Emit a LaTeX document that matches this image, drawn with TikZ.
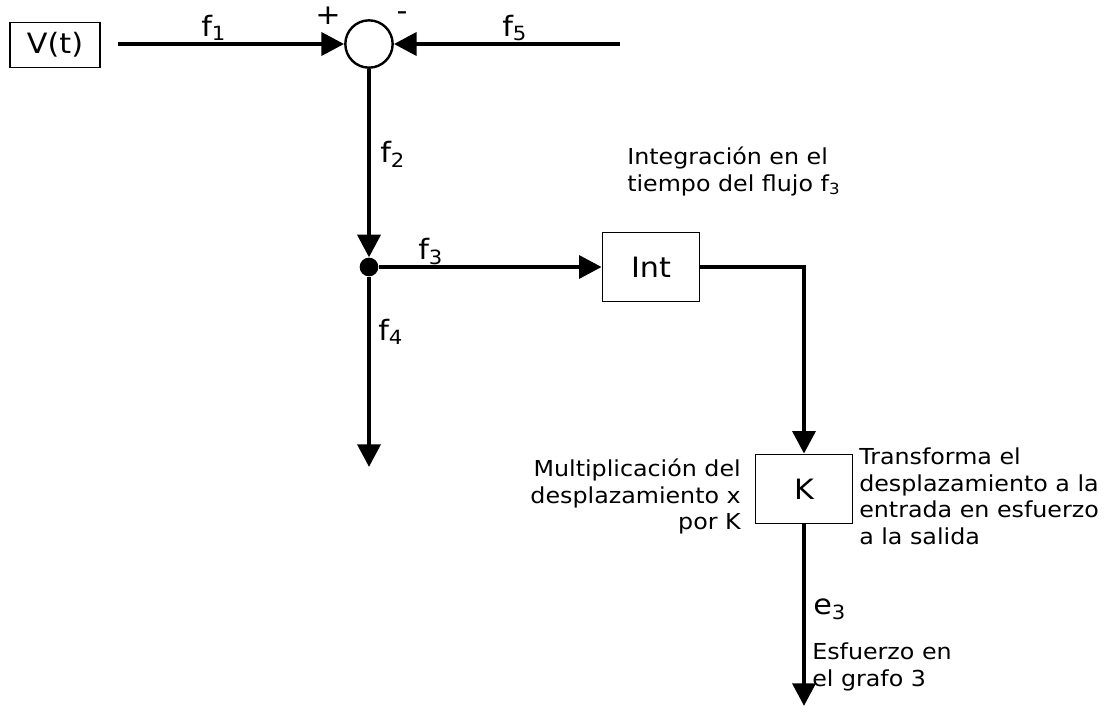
\documentclass[tikz,border=0pt]{standalone}
\usepackage{fontspec}
\setmainfont{DejaVu Sans}[FakeStretch=1.08]
\usetikzlibrary{arrows.meta}

\begin{document}
\begin{tikzpicture}[x=0.75pt,y=0.75pt,yscale=-1,xscale=1,
  flow/.style={line width=3.4pt,-{Triangle[length=17pt,width=17pt]}},
  blk/.style={draw,line width=1pt,inner sep=0pt,font=\fontsize{21}{25}\selectfont},
  lbl/.style={inner sep=0.75pt,font=\fontsize{21}{25}\selectfont},
  note/.style={inner sep=0.75pt,font=\fontsize{16.5}{19.8}\selectfont}]
\useasboundingbox (0,0) rectangle (1108,715);

%Shape: Rectangle [id:vsrc]
\node [blk,minimum width=67.5pt,minimum height=33.5pt] (vsrc) at (55,45) {V(t)};
%Shape: Circle [id:sum]
\node [draw,circle,line width=1.8pt,minimum size=35.5pt,inner sep=0pt] (sum) at (369,44) {};
%Shape: Circle [id:dot]
\node [fill,circle,minimum size=14pt,inner sep=0pt] (dot) at (369,267) {};
%Shape: Rectangle [id:int]
\node [blk,minimum width=73pt,minimum height=52pt] (int) at (651,267) {Int};
%Shape: Rectangle [id:k]
\node [blk,minimum width=73pt,minimum height=52pt] (k) at (804,489) {K};

%free ends of the lines
\coordinate (f1start) at (118,44);
\coordinate (f5start) at (620,44);
\coordinate (f4end) at (369,467);
\coordinate (e3end) at (804,706);

%Straight Lines
\draw [flow] (f1start) -- (sum.west);
\draw [flow] (f5start) -- (sum.east);
\draw [flow] (sum.south) -- (dot.north);
\draw [flow] (dot) -- (int.west);
\draw [flow] (dot) -- (f4end);
\draw [flow] (int.east) -| (k.north);
\draw [flow] (k.south) -- (e3end);

% Text Node
\node [lbl] (plus) at (328,16) {+};
% Text Node
\node [lbl] (minus) at (402,16) {-};
% Text Node
\node [lbl,anchor=base west] (f1) at (200,36) {f\textsubscript{1}};
% Text Node
\node [lbl,anchor=base west] (f5) at (501,36) {f\textsubscript{5}};
% Text Node
\node [lbl,anchor=base west] (f2) at (379,162) {f\textsubscript{2}};
% Text Node
\node [lbl,anchor=base west] (f3) at (417,259) {f\textsubscript{3}};
% Text Node
\node [lbl,anchor=base west] (f4) at (377,340) {f\textsubscript{4}};
% Text Node
\node [lbl,anchor=base west] (e3) at (812,614) {e\textsubscript{3}};

% Text Node
\node [note,anchor=north west,align=left] (intnote) at (626,146)
  {Integración en el\\tiempo del flujo f\textsubscript{3}};
% Text Node
\node [note,anchor=north east,align=right] (knote) at (742,458)
  {Multiplicación del\\desplazamiento x\\por K};
% Text Node
\node [note,anchor=north west,align=left] (trnote) at (858,447)
  {Transforma el\\desplazamiento a la\\entrada en esfuerzo\\a la salida};
% Text Node
\node [note,anchor=north west,align=left] (e3note) at (811,642)
  {Esfuerzo en\\el grafo 3};

\end{tikzpicture}
\end{document}
